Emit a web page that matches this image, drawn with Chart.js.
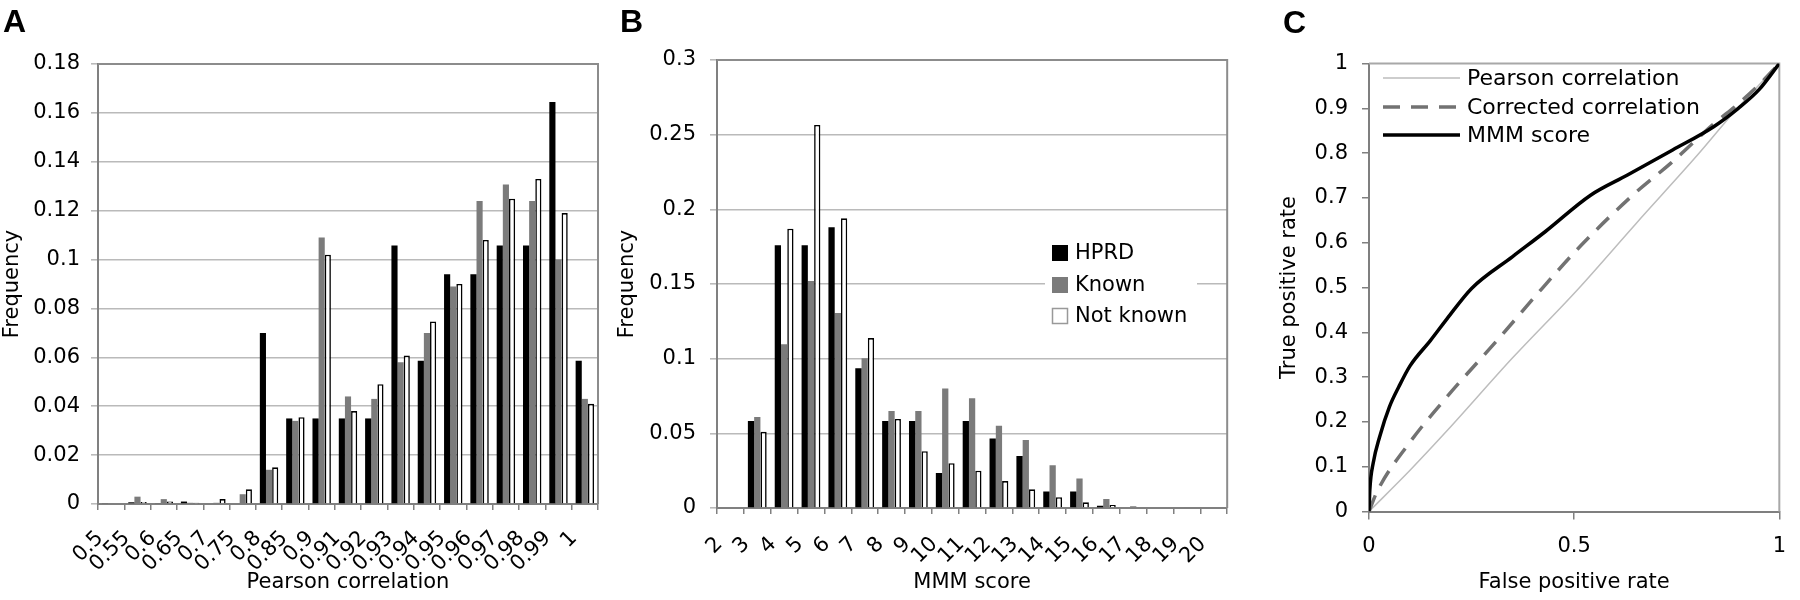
<!DOCTYPE html>
<html><head><meta charset="utf-8">
<script src="https://cdn.jsdelivr.net/npm/chart.js@4.4.1/dist/chart.umd.min.js"></script>
<style>
html,body{margin:0;padding:0;background:#fff;}
body{width:1800px;height:600px;position:relative;overflow:hidden;}
canvas{position:absolute;top:0;}
#ca{left:0px;width:620px;height:600px;}
#cb{left:600px;width:650px;height:600px;}
#cc{left:1250px;width:550px;height:600px;}
</style></head><body>
<canvas id="ca" width="620" height="600"></canvas>
<canvas id="cb" width="650" height="600"></canvas>
<canvas id="cc" width="550" height="600"></canvas>
<script>
// ---------- Panel A: Pearson correlation histogram ----------
const pearsonBins = ['0.5','0.55','0.6','0.65','0.7','0.75','0.8','0.85','0.9','0.91','0.92','0.93','0.94','0.95','0.96','0.97','0.98','0.99','1'];
const pearsonHPRD = [0.0003,0.0007,0.0003,0.001,0,0,0.070,0.035,0.035,0.035,0.035,0.1057,0.0586,0.094,0.094,0.1057,0.1057,0.1645,0.0586];
const pearsonKnown = [0.0003,0.003,0.002,0.0005,0.0005,0.004,0.014,0.034,0.109,0.044,0.043,0.058,0.070,0.089,0.124,0.1307,0.124,0.100,0.043];
const pearsonNotKnown = [0.0003,0.0008,0.001,0.0005,0.002,0.006,0.015,0.0355,0.102,0.038,0.049,0.0607,0.0747,0.090,0.108,0.1249,0.133,0.119,0.041];

// ---------- Panel B: MMM score histogram ----------
const mmmBins = ['2','3','4','5','6','7','8','9','10','11','12','13','14','15','16','17','18','19','20'];
const mmmHPRD = [0,0.0583,0.176,0.176,0.188,0.0936,0.0583,0.0583,0.0235,0.0583,0.0466,0.0348,0.011,0.011,0.0015,0.0005,0,0,0];
const mmmKnown = [0,0.061,0.1097,0.152,0.1305,0.1003,0.065,0.065,0.080,0.0735,0.055,0.0455,0.0287,0.0197,0.006,0.0012,0,0.0003,0];
const mmmNotKnown = [0,0.051,0.187,0.2565,0.194,0.1138,0.0596,0.038,0.030,0.025,0.018,0.0125,0.0072,0.0038,0.002,0.0005,0,0,0];

// ---------- Panel C: ROC curves ----------
const pearsonFPR = [0,0.1,0.19,0.35,0.507,0.65,0.8,0.893,1];
const pearsonTPR = [0,0.092,0.18,0.343,0.494,0.642,0.795,0.895,1];
const correctedFPR = [0,0.02,0.1,0.19,0.32,0.42,0.52,0.65,0.735,0.84,0.9,0.95,1];
const correctedTPR = [0,0.045,0.155,0.256,0.39,0.496,0.597,0.712,0.777,0.865,0.91,0.952,1];
const mmmFPR = [0,0.002,0.01,0.026,0.05,0.073,0.1,0.15,0.19,0.25,0.35,0.43,0.54,0.63,0.74,0.84,0.9,0.95,1];
const mmmTPR = [0,0.048,0.107,0.167,0.234,0.279,0.325,0.382,0.43,0.498,0.569,0.625,0.706,0.751,0.807,0.859,0.9,0.941,1];

const seriesNames = ['HPRD','Known','Not known'];
const rocNames = ['Pearson correlation','Corrected correlation','MMM score'];

Chart.defaults.font.family = '"DejaVu Sans", Verdana, sans-serif';
Chart.defaults.font.size = 21;
Chart.defaults.color = '#000';

const fmt = v => String(parseFloat(Number(v).toFixed(4)));
const pts = (xs, ys) => xs.map((x, i) => ({x: x, y: ys[i]}));

const frame = (color) => ({
  id: 'frame',
  beforeDatasetsDraw(chart) {
    const {ctx, chartArea: a} = chart;
    ctx.save();
    ctx.strokeStyle = color; ctx.lineWidth = 2;
    ctx.beginPath();
    ctx.moveTo(a.left, a.top); ctx.lineTo(a.right, a.top); ctx.lineTo(a.right, a.bottom);
    ctx.stroke();
    ctx.restore();
  }
});
const letter = (t, x, y) => ({
  id: 'letter',
  afterDraw(chart) {
    const ctx = chart.ctx;
    ctx.save();
    ctx.font = 'bold 32px "Liberation Sans", Arial, sans-serif';
    ctx.fillStyle = '#000';
    ctx.textBaseline = 'alphabetic';
    ctx.textAlign = 'left';
    ctx.fillText(t, x, y);
    ctx.restore();
  }
});

function barDatasets(h, k, n) {
  return [
    {label: seriesNames[0], data: h, backgroundColor: '#000', borderWidth: 0, categoryPercentage: 0.7, barPercentage: 1.0},
    {label: seriesNames[1], data: k, backgroundColor: '#7b7b7b', borderWidth: 0, categoryPercentage: 0.7, barPercentage: 1.0},
    {label: seriesNames[2], data: n, backgroundColor: '#fff', borderColor: '#000', borderWidth: 1.6, categoryPercentage: 0.7, barPercentage: 1.0}
  ];
}

function barOptions(cfg) {
  return {
    responsive: false, animation: false, devicePixelRatio: 1,
    layout: {padding: {top: cfg.top, right: cfg.right, left: 0, bottom: 0}},
    plugins: {legend: {display: false}, tooltip: {enabled: false}},
    scales: {
      x: {
        grid: {drawOnChartArea: false, tickLength: 6, color: '#808080', lineWidth: 1.5},
        border: {color: '#808080', width: 2},
        ticks: {minRotation: 45, maxRotation: 45, autoSkip: false, padding: cfg.xpad, labelOffset: -11, color: '#000', font: {size: 21}},
        title: {display: true, text: cfg.xtitle, color: '#000', font: {size: 21}, padding: {top: 0, bottom: 5}},
        afterFit: s => { s.height = cfg.xh; }
      },
      y: {
        min: 0, max: cfg.ymax,
        ticks: {stepSize: cfg.step, padding: cfg.ypad, callback: fmt, color: '#000', font: {size: 21}},
        grid: {color: '#bababa', lineWidth: 1.6, tickLength: 7},
        border: {color: '#808080', width: 2},
        title: {display: true, text: 'Frequency', color: '#000', font: {size: 21}, padding: {top: cfg.ytp, bottom: 0}},
        afterFit: s => { s.width = cfg.yw; }
      }
    }
  };
}

// Panel A
new Chart(document.getElementById('ca'), {
  type: 'bar',
  data: {labels: pearsonBins, datasets: barDatasets(pearsonHPRD, pearsonKnown, pearsonNotKnown)},
  options: barOptions({top: 64, right: 22, xh: 96, yw: 98, ymax: 0.18, step: 0.02, xpad: 16, ypad: 11, ytp: 0, xtitle: 'Pearson correlation'}),
  plugins: [frame('#8c8c8c'), letter('A', 3, 32)]
});

// Panel B legend (inside plot area)
const legendB = {
  id: 'legendB',
  afterDraw(chart) {
    const ctx = chart.ctx;
    const ds = chart.data.datasets;
    ctx.save();
    ctx.fillStyle = '#fff';
    ctx.fillRect(445, 237, 152, 98);
    const rows = [253, 285, 316];
    ctx.font = '21px "DejaVu Sans", Verdana, sans-serif';
    ctx.textBaseline = 'middle';
    ctx.textAlign = 'left';
    ds.forEach((d, i) => {
      const y = rows[i];
      ctx.fillStyle = d.backgroundColor;
      ctx.fillRect(452, y - 8, 16, 16);
      if (i === 2) { ctx.strokeStyle = '#999'; ctx.lineWidth = 1.5; ctx.strokeRect(452.5, y - 7.5, 15, 15); }
      ctx.fillStyle = '#000';
      ctx.fillText(d.label, 475, y + 1);
    });
    ctx.restore();
  }
};

// Panel B
new Chart(document.getElementById('cb'), {
  type: 'bar',
  data: {labels: mmmBins, datasets: barDatasets(mmmHPRD, mmmKnown, mmmNotKnown)},
  options: barOptions({top: 60, right: 16, xh: 92, yw: 117, ymax: 0.3, step: 0.05, xpad: 18, ypad: 14, ytp: 15, xtitle: 'MMM score'}),
  plugins: [frame('#8c8c8c'), legendB, letter('B', 20, 32)]
});

// Panel C legend
const legendC = {
  id: 'legendC',
  afterDraw(chart) {
    const ctx = chart.ctx;
    const ds = chart.data.datasets;
    const rows = [78, 107, 135];
    ctx.save();
    ctx.font = '22px "DejaVu Sans", Verdana, sans-serif';
    ctx.textBaseline = 'middle';
    ctx.textAlign = 'left';
    ds.forEach((d, i) => {
      const y = rows[i];
      ctx.strokeStyle = d.borderColor;
      ctx.lineWidth = d.borderWidth;
      ctx.setLineDash(d.borderDash || []);
      ctx.beginPath(); ctx.moveTo(133, y); ctx.lineTo(210, y); ctx.stroke();
      ctx.setLineDash([]);
      ctx.fillStyle = '#000';
      ctx.fillText(d.label, 217, y + 1);
    });
    ctx.restore();
  }
};

// Panel C
new Chart(document.getElementById('cc'), {
  type: 'line',
  data: {datasets: [
    {label: rocNames[0], data: pts(pearsonFPR, pearsonTPR), borderColor: '#bdbdbd', borderWidth: 1.5, pointRadius: 0, cubicInterpolationMode: 'monotone', order: 3},
    {label: rocNames[1], data: pts(correctedFPR, correctedTPR), borderColor: '#727272', borderWidth: 3.5, borderDash: [17, 11], pointRadius: 0, cubicInterpolationMode: 'monotone', order: 2},
    {label: rocNames[2], data: pts(mmmFPR, mmmTPR), borderColor: '#000', borderWidth: 3.5, pointRadius: 0, cubicInterpolationMode: 'monotone', order: 1}
  ]},
  options: {
    responsive: false, animation: false, devicePixelRatio: 1,
    layout: {padding: {top: 63.5, right: 8, left: 0, bottom: 0}},
    plugins: {legend: {display: false}, tooltip: {enabled: false}},
    scales: {
      x: {
        type: 'linear', min: 0, max: 1,
        ticks: {stepSize: 0.5, padding: 14, callback: fmt, color: '#000', font: {size: 21}},
        grid: {drawOnChartArea: false, tickLength: 8, color: '#808080', lineWidth: 1.5},
        border: {color: '#7f7f7f', width: 2},
        title: {display: true, text: 'False positive rate', color: '#000', font: {size: 21}, padding: {top: 0, bottom: 5}},
        afterFit: s => { s.height = 88.5; }
      },
      y: {
        min: 0, max: 1,
        ticks: {stepSize: 0.1, padding: 14, callback: fmt, color: '#000', font: {size: 21}},
        grid: {drawOnChartArea: false, tickLength: 7, color: '#808080', lineWidth: 1.5},
        border: {color: '#7f7f7f', width: 2},
        title: {display: true, text: 'True positive rate', color: '#000', font: {size: 21}, padding: {top: 27, bottom: 0}},
        afterFit: s => { s.width = 119; }
      }
    }
  },
  plugins: [frame('#a8a8a8'), legendC, letter('C', 33, 33)]
});
</script>
</body></html>
